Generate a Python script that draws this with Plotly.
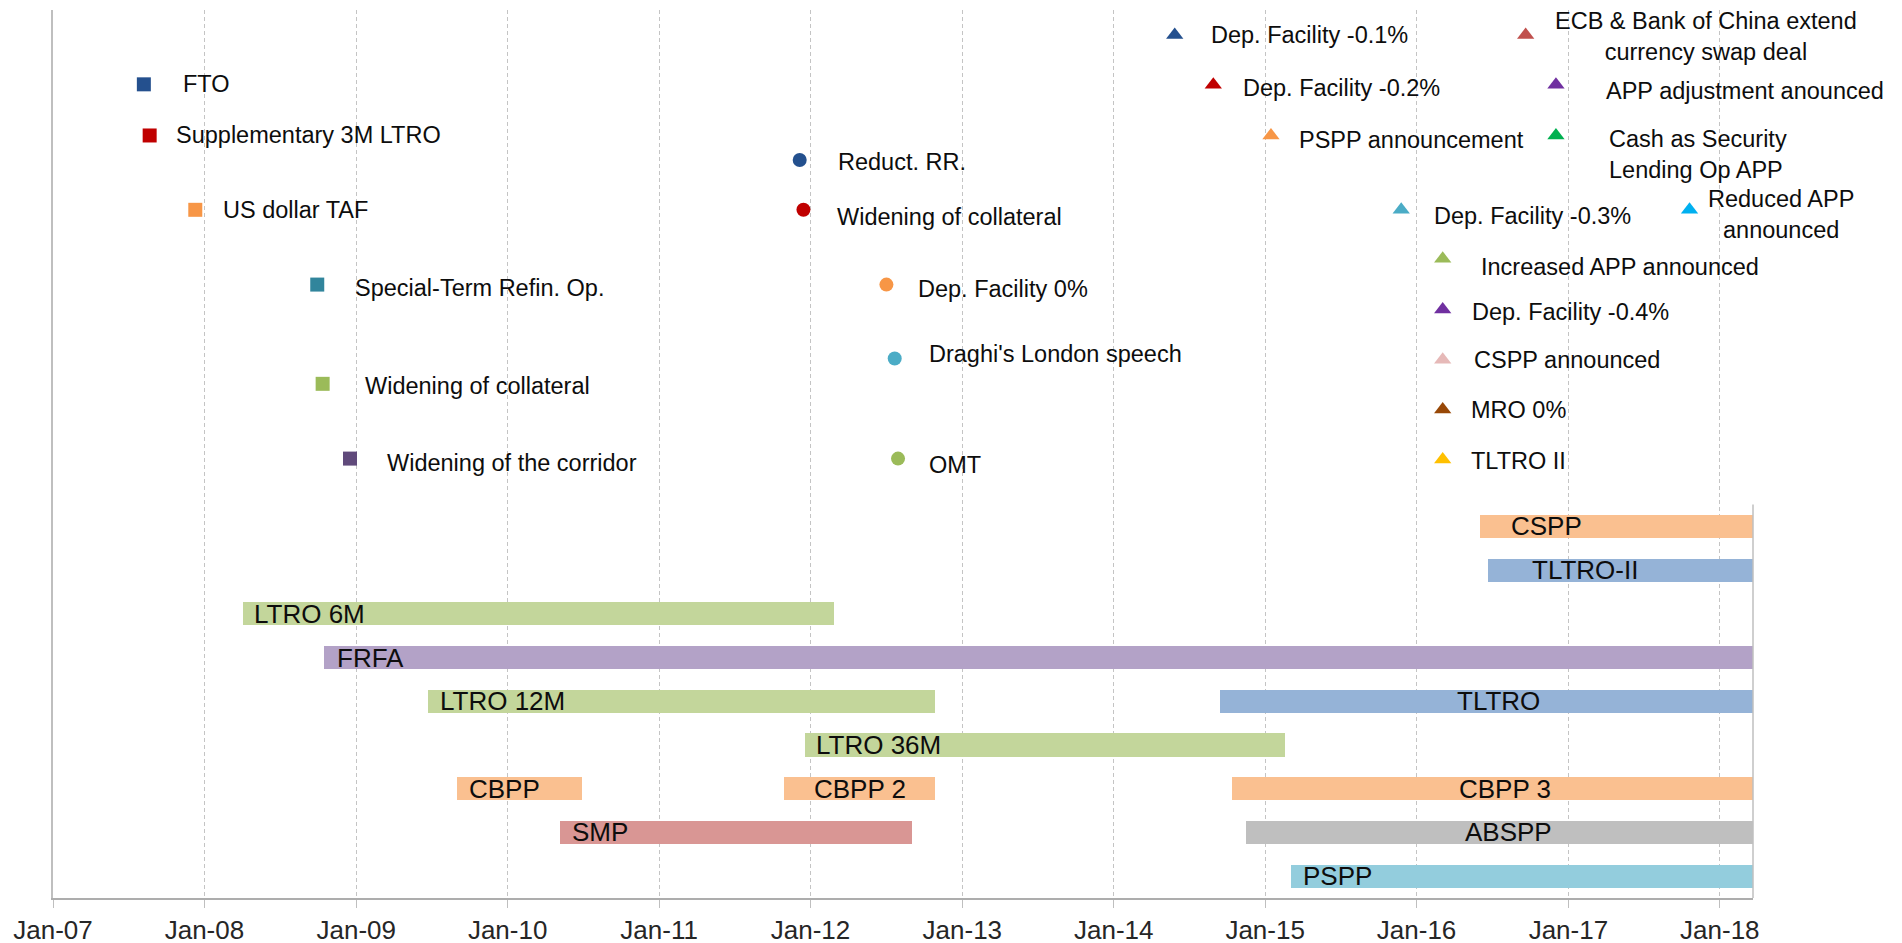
import pandas as pd
import plotly.graph_objects as go

# ---------------- data ----------------
# Programmes (horizontal bars): row level on the vertical scale, start / end dates
bar_names = ["CSPP", "TLTRO-II", "LTRO 6M", "FRFA", "LTRO 12M", "TLTRO", "LTRO 36M",
             "CBPP", "CBPP 2", "CBPP 3", "SMP", "ABSPP", "PSPP"]
bar_rows = [8.5, 7.5, 6.5, 5.5, 4.5, 4.5, 3.5, 2.5, 2.5, 2.5, 1.5, 1.5, 0.5]
bar_start = ["2016-06-03", "2016-06-22", "2008-04-03", "2008-10-15", "2009-06-24",
             "2014-09-13", "2011-12-18", "2009-08-31", "2011-10-30", "2014-10-12",
             "2010-05-08", "2014-11-17", "2015-03-04"]
bar_end = ["2018-03-31", "2018-03-31", "2012-02-27", "2018-03-31", "2012-10-28",
           "2018-03-31", "2015-02-17", "2010-06-28", "2012-10-27", "2018-03-31",
           "2012-09-02", "2018-03-31", "2018-03-31"]

# Announcements / events (markers)
ev_labels = ["FTO", "Supplementary 3M LTRO", "US dollar TAF", "Special-Term Refin. Op.",
             "Widening of collateral", "Widening of the corridor",
             "Reduct. RR.", "Widening of collateral", "Dep. Facility 0%",
             "Draghi's London speech", "OMT",
             "Dep. Facility -0.1%", "Dep. Facility -0.2%", "PSPP announcement",
             "Dep. Facility -0.3%", "Increased APP announced", "Dep. Facility -0.4%",
             "CSPP announced", "MRO 0%", "TLTRO II",
             "ECB & Bank of China extend<br>currency swap deal",
             "APP adjustment anounced", "Cash as Security<br>Lending Op APP",
             "Reduced APP<br>announced"]
ev_dates = ["2007-08-08", "2007-08-22", "2007-12-10", "2008-09-29", "2008-10-12", "2008-12-17",
            "2011-12-06", "2011-12-15", "2012-07-02", "2012-07-22", "2012-07-30",
            "2014-05-28", "2014-08-29", "2015-01-15", "2015-11-25", "2016-03-04",
            "2016-03-04", "2016-03-04", "2016-03-04", "2016-03-04",
            "2016-09-20", "2016-12-02", "2016-12-02", "2017-10-20"]
ev_levels = [18.61, 17.44, 15.74, 14.03, 11.76, 10.05,
             16.88, 15.74, 14.03, 12.34, 10.05,
             19.74, 18.60, 17.44, 15.74, 14.62, 13.46, 12.31, 11.17, 10.03,
             19.74, 18.60, 17.44, 15.74]

tick_format = "%b-%y"
x_range = ["2007-01-01", "2018-03-22"]
y_range = [0, 20.31]

# ---------------- styles ----------------
bar_colors = ["#FAC090", "#95B3D7", "#C3D69B", "#B3A2C7", "#C3D69B", "#95B3D7", "#C3D69B",
              "#FAC090", "#FAC090", "#FAC090", "#D99694", "#BFBFBF", "#93CDDD"]
bar_label_shift = [29, 42, 9, 11, 10, 235, 9, 10, 28, 225, 10, 217, 10]

ev_symbols = ["square"] * 6 + ["circle"] * 5 + ["triangle-up"] * 13
ev_colors = ["#24508E", "#C00000", "#F79646", "#31859C", "#9BBB59", "#604A7B",
             "#24508E", "#C00000", "#F79646", "#4BACC6", "#9BBB59",
             "#24508E", "#C00000", "#F79646", "#4BACC6", "#9BBB59", "#7030A0",
             "#E6B9B8", "#984807", "#FFC000",
             "#C0504D", "#7030A0", "#00B050", "#00B0F0"]
ev_dx = [37, 24, 26, 36, 40, 35,
         36, 32, 30, 32, 29,
         34, 28, 26, 31, 36, 27, 29, 26, 26,
         180, 48, 51, 91]
ev_dy = [0, 0, 0, 3, 2, 4,
         2, 7, 4, -4, 6,
         0, 3, 5, 6, 8, 2, 0, 0, 2,
         2, 6, 19, 5]
ev_anchor = ["left"] * 20 + ["center", "left", "left", "center"]

FONT = "Liberation Sans, Arial, sans-serif"

# ---------------- figure ----------------
fig = go.Figure()

starts = pd.to_datetime(pd.Series(bar_start))
ends = pd.to_datetime(pd.Series(bar_end))
durations_ms = ((ends - starts).dt.total_seconds() * 1000).tolist()

fig.add_trace(go.Bar(
    orientation="h",
    y=bar_rows,
    base=bar_start,
    x=durations_ms,
    width=0.53,
    marker=dict(color=bar_colors, line=dict(width=0)),
    hovertext=bar_names,
    hoverinfo="text",
    showlegend=False,
))

for sym in ["square", "circle", "triangle-up"]:
    idx = [i for i, s in enumerate(ev_symbols) if s == sym]
    size = {"square": 14, "circle": 14, "triangle-up": 15}[sym]
    fig.add_trace(go.Scatter(
        x=[ev_dates[i] for i in idx],
        y=[ev_levels[i] for i in idx],
        mode="markers",
        marker=dict(symbol=sym, size=size, color=[ev_colors[i] for i in idx],
                    line=dict(width=0)),
        hovertext=[ev_labels[i].replace("<br>", " ") for i in idx],
        hoverinfo="text",
        showlegend=False,
    ))

annotations = []
for i, lab in enumerate(ev_labels):
    annotations.append(dict(
        x=ev_dates[i], y=ev_levels[i], xref="x", yref="y",
        text=lab, showarrow=False,
        xanchor=ev_anchor[i], yanchor="middle",
        align="center" if ev_anchor[i] == "center" else "left",
        xshift=ev_dx[i], yshift=-ev_dy[i],
        font=dict(family=FONT, size=23.5, color="#0D0D0D"),
    ))
for i, lab in enumerate(bar_names):
    annotations.append(dict(
        x=bar_start[i], y=bar_rows[i], xref="x", yref="y",
        text=lab, showarrow=False,
        xanchor="left", yanchor="middle",
        xshift=bar_label_shift[i],
        font=dict(family=FONT, size=26, color="#0D0D0D"),
    ))

# the page body has an 8px default margin, so the margins compensate for it
fig.update_layout(
    width=1902, height=943,
    margin=dict(l=45, r=157, t=1.5, b=53),
    paper_bgcolor="white", plot_bgcolor="white",
    font=dict(family=FONT),
    annotations=annotations,
    shapes=[dict(type="line", xref="paper", yref="y", x0=1, x1=1, y0=0, y1=9,
                 line=dict(color="#BFBFBF", width=1.5))],
    bargap=0,
)

fig.update_xaxes(
    type="date", range=x_range,
    tick0="2007-01-01", dtick="M12", tickformat=tick_format,
    showgrid=True, gridcolor="#C4C4C4", gridwidth=1, griddash="4px,3px",
    showline=True, linecolor="#ADADAD", linewidth=1.5,
    ticks="outside", ticklen=8, tickcolor="#BFBFBF", tickwidth=1,
    tickfont=dict(family=FONT, size=26, color="#262626"),
    zeroline=False, fixedrange=True, automargin=False,
)
fig.update_yaxes(
    range=y_range, showgrid=False, zeroline=False, showticklabels=False,
    showline=True, linecolor="#BFBFBF", linewidth=1.5, ticks="", fixedrange=True,
    automargin=False,
)

fig.write_html("out.html")
